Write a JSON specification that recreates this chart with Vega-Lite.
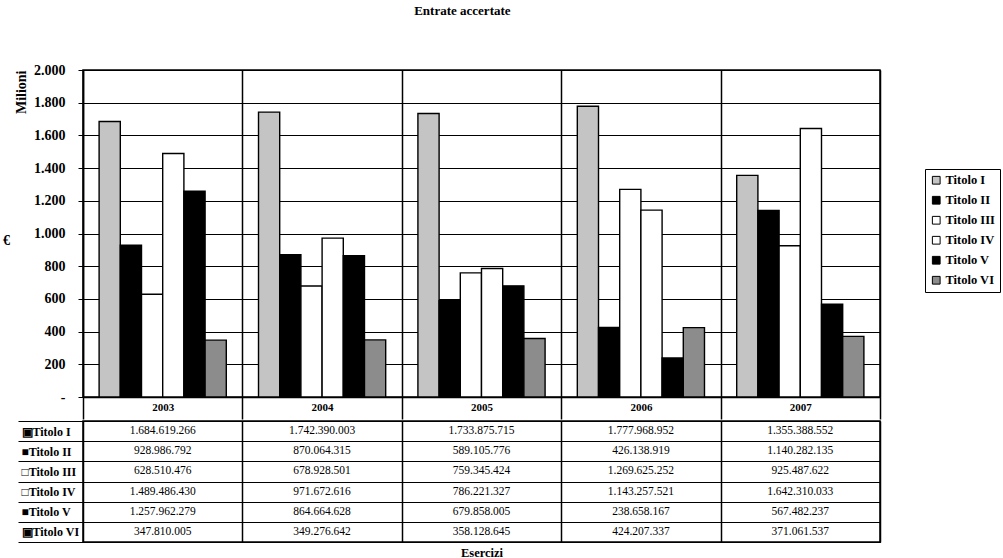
{
  "$schema": "https://vega.github.io/schema/vega-lite/v6.json",
  "padding": {"left": 2, "top": 5, "right": 0, "bottom": 0},
  "background": "white",
  "title": {"text": "Entrate accertate", "font": "Liberation Serif", "fontSize": 13, "fontWeight": "bold", "anchor": "middle", "offset": 44, "dx": -39, "color": "black"},
  "config": {
    "locale": {"number": {"decimal": ",", "thousands": ".", "grouping": [3], "currency": ["", " €"]}},
    "font": "Liberation Serif",
    "view": {"stroke": "black", "strokeWidth": 1.5}
  },
  "spacing": -13,
  "data": {"values": [
    {"year": "2003", "series": "Titolo I", "value": 1684619266},
    {"year": "2003", "series": "Titolo II", "value": 928986792},
    {"year": "2003", "series": "Titolo III", "value": 628510476},
    {"year": "2003", "series": "Titolo IV", "value": 1489486430},
    {"year": "2003", "series": "Titolo V", "value": 1257962279},
    {"year": "2003", "series": "Titolo VI", "value": 347810005},
    {"year": "2004", "series": "Titolo I", "value": 1742390003},
    {"year": "2004", "series": "Titolo II", "value": 870064315},
    {"year": "2004", "series": "Titolo III", "value": 678928501},
    {"year": "2004", "series": "Titolo IV", "value": 971672616},
    {"year": "2004", "series": "Titolo V", "value": 864664628},
    {"year": "2004", "series": "Titolo VI", "value": 349276642},
    {"year": "2005", "series": "Titolo I", "value": 1733875715},
    {"year": "2005", "series": "Titolo II", "value": 589105776},
    {"year": "2005", "series": "Titolo III", "value": 759345424},
    {"year": "2005", "series": "Titolo IV", "value": 786221327},
    {"year": "2005", "series": "Titolo V", "value": 679858005},
    {"year": "2005", "series": "Titolo VI", "value": 358128645},
    {"year": "2006", "series": "Titolo I", "value": 1777968952},
    {"year": "2006", "series": "Titolo II", "value": 426138919},
    {"year": "2006", "series": "Titolo III", "value": 1269625252},
    {"year": "2006", "series": "Titolo IV", "value": 1143257521},
    {"year": "2006", "series": "Titolo V", "value": 238658167},
    {"year": "2006", "series": "Titolo VI", "value": 424207337},
    {"year": "2007", "series": "Titolo I", "value": 1355388552},
    {"year": "2007", "series": "Titolo II", "value": 1140282135},
    {"year": "2007", "series": "Titolo III", "value": 925487622},
    {"year": "2007", "series": "Titolo IV", "value": 1642310033},
    {"year": "2007", "series": "Titolo V", "value": 567482237},
    {"year": "2007", "series": "Titolo VI", "value": 371061537}
  ]},
  "vconcat": [
    {
      "width": 797,
      "height": 327,
      "title": {"text": "€", "orient": "left", "anchor": "middle", "angle": 0, "fontSize": 14, "fontWeight": "bold", "offset": 1, "color": "black", "font": "Liberation Serif"},
      "mark": {"type": "bar", "stroke": "black", "strokeWidth": 1.4},
      "encoding": {
        "x": {"field": "year", "type": "nominal", "scale": {"paddingInner": 0, "paddingOuter": 0},
          "axis": {"title": null, "tickBand": "extent", "grid": true, "gridColor": "black", "gridWidth": 1.5, "gridOpacity": 1,
            "tickSize": 22, "tickColor": "black", "tickWidth": 1.5, "labelPadding": -18, "labelAngle": 0,
            "minExtent": 22, "maxExtent": 22,
            "labelExpr": "datum.value ? datum.value : ''",
            "labelFontSize": 11, "labelFontWeight": "bold", "labelColor": "black", "domainColor": "black", "domainWidth": 1.5}},
        "xOffset": {"field": "series", "type": "nominal", "scale": {"paddingInner": 0, "paddingOuter": 0.76}},
        "y": {"field": "value", "type": "quantitative", "scale": {"domain": [0, 2000000000], "nice": false},
          "axis": {"values": [0, 200000000, 400000000, 600000000, 800000000, 1000000000, 1200000000, 1400000000, 1600000000, 1800000000, 2000000000],
            "labelExpr": "datum.value == 0 ? '-' : format(datum.value / 1000000, ',')",
            "title": "Milioni", "titleAnchor": "end", "titleFontSize": 14, "titleFontWeight": "bold", "titleColor": "black", "titlePadding": 5,
            "labelFontSize": 14, "labelFontWeight": "bold", "labelColor": "black", "labelPadding": 13,
            "tickSize": 5, "tickColor": "black", "domainColor": "black", "domainWidth": 1.5,
            "grid": true, "gridColor": "black", "gridOpacity": 1, "gridWidth": 1}},
        "color": {"field": "series", "type": "nominal",
          "scale": {"domain": ["Titolo I", "Titolo II", "Titolo III", "Titolo IV", "Titolo V", "Titolo VI"],
                    "range": ["#c4c4c4", "#000000", "#ffffff", "#ffffff", "#000000", "#8c8c8c"]},
          "legend": {"title": null, "orient": "none", "legendX": 842, "legendY": 99, "fillColor": "white", "strokeColor": "black",
            "padding": 5, "symbolType": "square", "symbolSize": 60, "symbolStrokeColor": "black", "symbolStrokeWidth": 1,
            "labelFont": "Liberation Serif", "labelFontSize": 12.5, "labelFontWeight": "bold", "labelColor": "black", "rowPadding": 7, "labelOffset": 3}}
      }
    },
    {
      "width": 797,
      "height": 121,
      "layer": [
        {
          "mark": {"type": "text", "fontSize": 11.5, "color": "black", "font": "Liberation Serif"},
          "encoding": {
            "x": {"field": "year", "type": "nominal", "scale": {"paddingInner": 0, "paddingOuter": 0},
              "axis": {"title": "Esercizi", "titleFontSize": 12.5, "titleFontWeight": "bold", "titleColor": "black", "titlePadding": 4,
                "labels": false, "ticks": false, "domain": false, "grid": true, "tickBand": "extent", "gridColor": "black", "gridOpacity": 1, "gridWidth": 1.5}},
            "y": {"field": "series", "type": "nominal", "sort": ["Titolo I", "Titolo II", "Titolo III", "Titolo IV", "Titolo V", "Titolo VI"],
              "scale": {"paddingInner": 0, "paddingOuter": 0},
              "axis": {"title": null, "tickBand": "extent", "tickSize": 65, "tickColor": "black", "labelAlign": "left", "labelPadding": -3,
                "labelExpr": "datum.value ? ((datum.value == 'Titolo II' || datum.value == 'Titolo V' ? '■' : (datum.value == 'Titolo I' || datum.value == 'Titolo VI' ? '▣' : '□')) + datum.value) : ''",
                "labelFontSize": 12, "labelFontWeight": "bold", "labelColor": "black", "domainColor": "black",
                "grid": true, "gridColor": "black", "gridOpacity": 1, "gridWidth": 1}},
            "text": {"field": "value", "type": "quantitative", "format": ",d"}
          }
        },
        {
          "mark": {"type": "text", "opacity": 0},
          "encoding": {
            "y": {"field": "series", "type": "nominal", "sort": ["Titolo I", "Titolo II", "Titolo III", "Titolo IV", "Titolo V", "Titolo VI"],
              "scale": {"paddingInner": 0, "paddingOuter": 0},
              "axis": {"title": null, "labels": false, "ticks": false, "grid": false, "domain": true, "domainColor": "black", "domainDash": [3, 2], "offset": 0, "minExtent": 0}},
            "text": {"value": ""}
          }
        }
      ],
      "resolve": {"axis": {"y": "independent"}}
    }
  ]
}
